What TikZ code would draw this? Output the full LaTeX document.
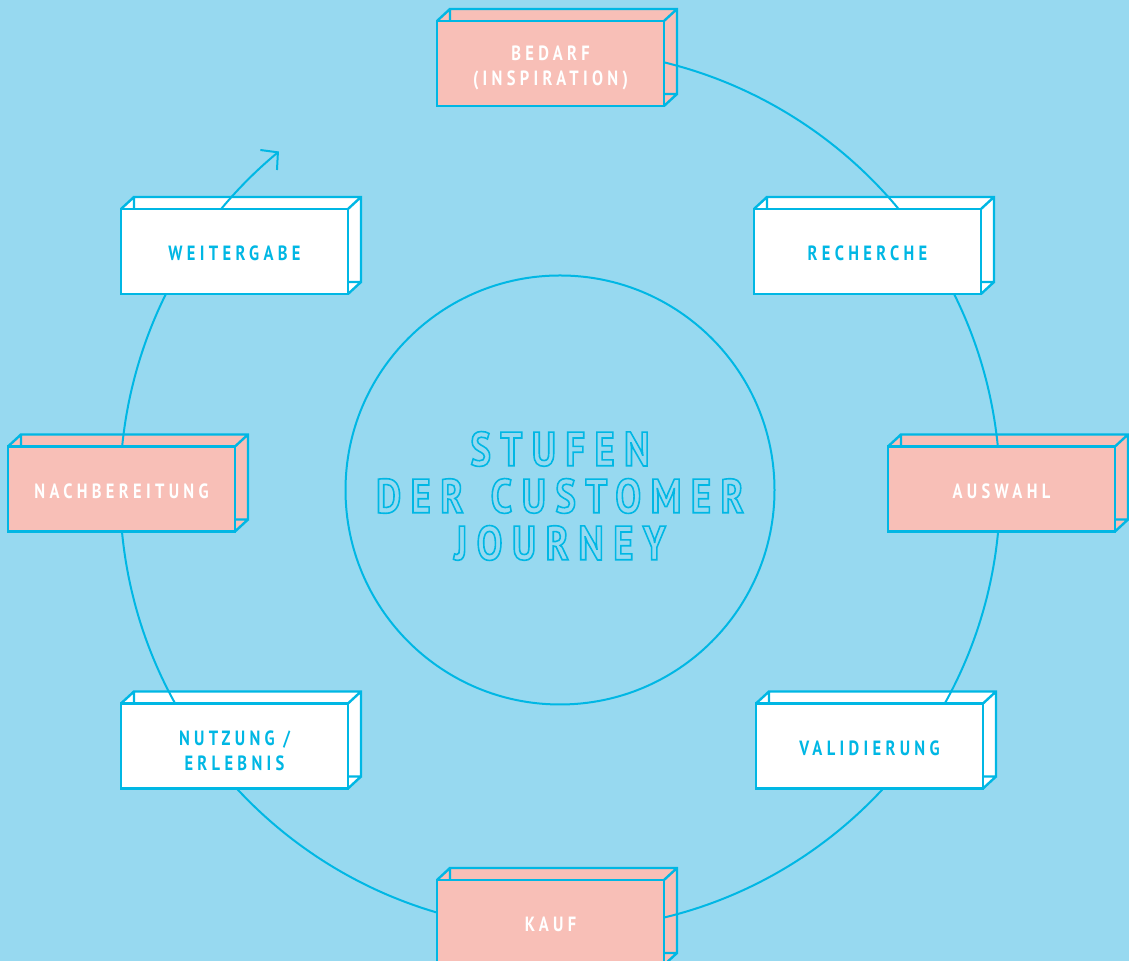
\documentclass[tikz,border=0pt]{standalone}
\usepackage{fontspec}
\usetikzlibrary{arrows.meta, calc}
\newfontfamily\stagefont[FakeStretch=0.8, LetterSpace=21]{PT Sans}
\newfontfamily\titlefont[FakeStretch=0.8, LetterSpace=20]{PT Sans}
\definecolor{sky}{RGB}{151, 217, 240}
\definecolor{ring}{RGB}{0, 183, 228}
\definecolor{rosa}{RGB}{248, 191, 183}
\pgfdeclarelayer{bg}
\pgfdeclarelayer{panel}
\pgfdeclarelayer{loop}
\pgfsetlayers{bg,panel,loop,main}

\begin{document}
\begin{tikzpicture}[
    x=0.5pt, y=0.5pt,
    stage/.style={rectangle, draw=ring, line width=1.2pt,
                  minimum width=113.5pt, minimum height=42.5pt,
                  inner sep=0pt, outer sep=0pt, align=center,
                  font=\stagefont\bfseries\fontsize{10.3}{12.5}\selectfont},
    hot/.style={stage, fill=rosa, text=white},
    cold/.style={stage, fill=white, text=ring},
    ringline/.style={draw=ring, line width=1pt},
    title/.style={align=center, text=ring,
                  font=\titlefont\bfseries\fontsize{24}{23.5}\selectfont},
  ]
  \begin{pgfonlayer}{bg}
    \fill[sky] (0,0) rectangle (1129,961);
  \end{pgfonlayer}
  \useasboundingbox (0,0) rectangle (1129,961);

  \coordinate (hub) at (560,471);

  % stages, clockwise from the top
  \node[hot]  (bedarf)      at (550.5,897.5) {\rule{0pt}{12pt}BEDARF\\(INSPIRATION)};
  \node[cold] (recherche)   at (867.5,709.5) {\rule{0pt}{9.5pt}RECHERCHE};
  \node[hot]  (auswahl)     at (1001.5,472)  {\rule{0pt}{9.5pt}AUSWAHL};
  \node[cold] (validierung) at (869.5,215)   {\rule{0pt}{9.5pt}VALIDIERUNG};
  \node[hot]  (kauf)        at (550.5,38.5)  {\rule{0pt}{9.5pt}KAUF};
  \node[cold] (nutzung)     at (234.5,215)   {\rule{0pt}{12pt}NUTZUNG /\\ERLEBNIS};
  \node[hot]  (nachber)     at (121.5,472)   {\rule{0pt}{9.5pt}NACHBEREITUNG};
  \node[cold] (weitergabe)  at (234.5,709.5) {\rule{0pt}{9.5pt}WEITERGABE};

  % box depth behind the front faces
  \begin{pgfonlayer}{panel}
    \foreach \n/\c in {bedarf/rosa, recherche/white, auswahl/rosa,
        validierung/white, kauf/rosa, nutzung/white,
        nachber/rosa, weitergabe/white}{
      \fill[\c] (\n.north west) -- ++(13,12)
        -- ($(\n.north east)+(13,12)$) -- ($(\n.south east)+(13,12)$)
        -- (\n.south east) -- (\n.south west) -- cycle;
      \draw[ring, line width=1.2pt]
        ($(\n.south west)+(13,12)$) rectangle ($(\n.north east)+(13,12)$)
        (\n.north west) -- ++(13,12)
        (\n.north east) -- ++(13,12)
        (\n.south east) -- ++(13,12);
    }
  \end{pgfonlayer}

  % the journey loop and the centre
  \begin{pgfonlayer}{loop}
    \draw[ringline, -{Straight Barb[length=6pt, width=13pt]}]
      ($(hub)+(95:440)$) arc[start angle=95, end angle=-230.3, radius=440];
    \node[circle, ringline, minimum size=214.5pt, inner sep=0pt] (core) at (hub) {};
    \node[title] (caption) at (560,465)
      {\special{pdf:literal direct 1 Tr 0.8 w}STUFEN\\DER\hspace{4pt} CUSTOMER\\JOURNEY\special{pdf:literal direct 0 Tr}};
  \end{pgfonlayer}
\end{tikzpicture}
\end{document}
